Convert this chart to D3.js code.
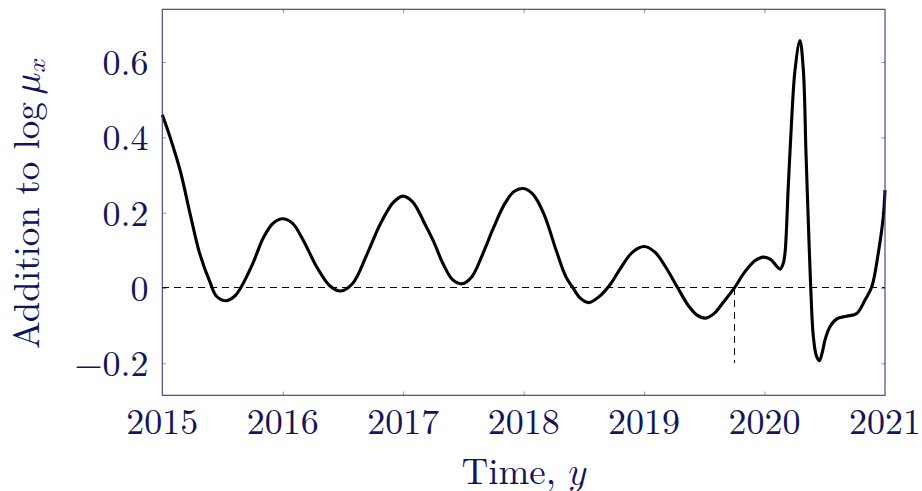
<!DOCTYPE html>
<html>
<head>
<meta charset="utf-8">
<script src="https://cdn.jsdelivr.net/npm/d3@7"></script>
<style>
  html, body { margin: 0; padding: 0; background: #fff; }
  svg { display: block; }
</style>
</head>
<body>
<svg id="chart" width="922" height="491"></svg>
<script>
// ---- data ----
const years = [
  2015.00, 2015.06, 2015.15, 2015.23, 2015.31, 2015.40, 2015.45, 2015.53, 2015.60, 2015.65,
  2015.75, 2015.84, 2015.92, 2016.00, 2016.08, 2016.17, 2016.28, 2016.39, 2016.48, 2016.58,
  2016.70, 2016.81, 2016.92, 2017.00, 2017.08, 2017.18, 2017.25, 2017.33, 2017.41, 2017.49,
  2017.57, 2017.66, 2017.75, 2017.84, 2017.92, 2018.00, 2018.08, 2018.17, 2018.27, 2018.35,
  2018.41, 2018.47, 2018.54, 2018.63, 2018.72, 2018.80, 2018.90, 2019.00, 2019.09, 2019.18,
  2019.28, 2019.37, 2019.44, 2019.51, 2019.58, 2019.66, 2019.75, 2019.83, 2019.92, 2019.99,
  2020.05, 2020.10, 2020.13, 2020.155, 2020.17, 2020.197, 2020.225, 2020.253, 2020.294, 2020.322,
  2020.344, 2020.363, 2020.383, 2020.405, 2020.43, 2020.455, 2020.48, 2020.502, 2020.543, 2020.60,
  2020.68, 2020.765, 2020.834, 2020.89, 2020.944, 2020.986, 2021.00
];
const addition = [
  0.460, 0.405, 0.310, 0.198, 0.092, 0.012, -0.022, -0.034, -0.022, 0.000,
  0.064, 0.134, 0.172, 0.184, 0.172, 0.127, 0.057, 0.006, -0.008, 0.012,
  0.090, 0.170, 0.228, 0.244, 0.228, 0.170, 0.125, 0.065, 0.022, 0.011,
  0.030, 0.090, 0.160, 0.222, 0.256, 0.264, 0.248, 0.195, 0.100, 0.030,
  0.000, -0.027, -0.039, -0.022, 0.010, 0.050, 0.094, 0.110, 0.095, 0.055,
  0.000, -0.048, -0.072, -0.080, -0.068, -0.037, 0.000, 0.040, 0.072, 0.082,
  0.076, 0.058, 0.050, 0.065, 0.093, 0.269, 0.446, 0.579, 0.657, 0.579,
  0.358, 0.180, 0.003, -0.129, -0.180, -0.193, -0.170, -0.138, -0.103, -0.082,
  -0.075, -0.068, -0.032, 0.003, 0.092, 0.190, 0.260
];
const xTicks = [2015, 2016, 2017, 2018, 2019, 2020, 2021];
const yTicks = [-0.2, 0, 0.2, 0.4, 0.6];
const xDomain = [2015, 2021];
const yDomain = [-0.285, 0.74];
const markerYear = 2019.75;   // vertical dashed marker
const markerLow = -0.2;

// ---- layout ----
const svg = d3.select("#chart");
const L = 162.3, R = 885, T = 9.3, B = 395.3;
const x = d3.scaleLinear().domain(xDomain).range([L, R]);
const y = d3.scaleLinear().domain(yDomain).range([B, T]);
const navy = "#14145c";
const frameCol = "#3a3a78";
const tickCol = "#8a8a8a";
const tickLen = 3.8;
const textFont = "'Latin Modern Roman', 'CMU Serif', 'Liberation Serif', serif";
const mathFont = "'Latin Modern Math', 'Latin Modern Roman', 'Liberation Serif', serif";
const fmtY = v => (v < 0 ? "\u2212" : "") + (v === 0 ? "0" : Math.abs(v).toFixed(1));

// inner ticks on all four sides
const innerX = xTicks.filter(t => t > xDomain[0] && t < xDomain[1]);
const innerY = yTicks;

const gBottom = svg.append("g").attr("transform", `translate(0,${B})`)
  .call(d3.axisBottom(x).tickValues(innerX).tickSize(-tickLen).tickFormat(""));
const gTop = svg.append("g").attr("transform", `translate(0,${T})`)
  .call(d3.axisTop(x).tickValues(innerX).tickSize(-tickLen).tickFormat(""));
const gLeft = svg.append("g").attr("transform", `translate(${L},0)`)
  .call(d3.axisLeft(y).tickValues(innerY).tickSize(-tickLen).tickFormat(""));
const gRight = svg.append("g").attr("transform", `translate(${R},0)`)
  .call(d3.axisRight(y).tickValues(innerY).tickSize(-tickLen).tickFormat(""));
[gBottom, gTop, gLeft, gRight].forEach(g => {
  g.select(".domain").remove();
  g.selectAll(".tick line").attr("stroke", tickCol).attr("stroke-width", 0.9);
});

// zero reference line
svg.append("line")
  .attr("x1", x(xDomain[0])).attr("x2", x(xDomain[1]))
  .attr("y1", y(0)).attr("y2", y(0))
  .attr("stroke", "#000").attr("stroke-width", 1)
  .attr("stroke-dasharray", "7,5").attr("shape-rendering", "crispEdges");

// vertical marker
svg.append("line")
  .attr("x1", x(markerYear)).attr("x2", x(markerYear))
  .attr("y1", y(0)).attr("y2", y(markerLow))
  .attr("stroke", "#000").attr("stroke-width", 1)
  .attr("stroke-dasharray", "7,5").attr("shape-rendering", "crispEdges");

// curve
const pts = years.map((yr, i) => [yr, addition[i]]);
const line = d3.line()
  .x(d => x(d[0])).y(d => y(d[1]))
  .curve(d3.curveCatmullRom.alpha(0.5));
svg.append("path")
  .datum(pts)
  .attr("d", line)
  .attr("fill", "none")
  .attr("stroke", "#000")
  .attr("stroke-width", 3.1)
  .attr("stroke-linejoin", "round");

// frame
svg.append("rect")
  .attr("x", L).attr("y", T).attr("width", R - L).attr("height", B - T)
  .attr("fill", "none").attr("stroke", frameCol).attr("stroke-width", 1.1);

// tick labels
svg.append("g").selectAll("text").data(xTicks).join("text")
  .attr("x", d => x(d)).attr("y", 433.5)
  .attr("text-anchor", "middle")
  .style("font-family", textFont).attr("font-size", 36).attr("fill", navy)
  .text(d => d);

svg.append("g").selectAll("text").data(yTicks).join("text")
  .attr("x", 148.5).attr("y", d => y(d) + 13)
  .attr("text-anchor", "end")
  .style("font-family", textFont).attr("font-size", 36).attr("fill", navy)
  .text(d => fmtY(d));

// axis titles
const xt = svg.append("text")
  .attr("x", 524).attr("y", 484)
  .attr("text-anchor", "middle")
  .style("font-family", textFont).attr("font-size", 37).attr("fill", navy);
xt.append("tspan").text("Time, ");
xt.append("tspan").style("font-family", mathFont).text("\u{1D466}");

const yt = svg.append("text")
  .attr("transform", `translate(39,${(T + B) / 2 + 1}) rotate(-90)`)
  .attr("text-anchor", "middle")
  .style("font-family", textFont).attr("font-size", 37).attr("fill", navy);
yt.append("tspan").text("Addition to log\u2009");
yt.append("tspan").style("font-family", mathFont).text("\u{1D707}");
yt.append("tspan").style("font-family", mathFont).attr("font-size", 26).attr("dy", 6).text("\u{1D465}");
</script>
</body>
</html>
